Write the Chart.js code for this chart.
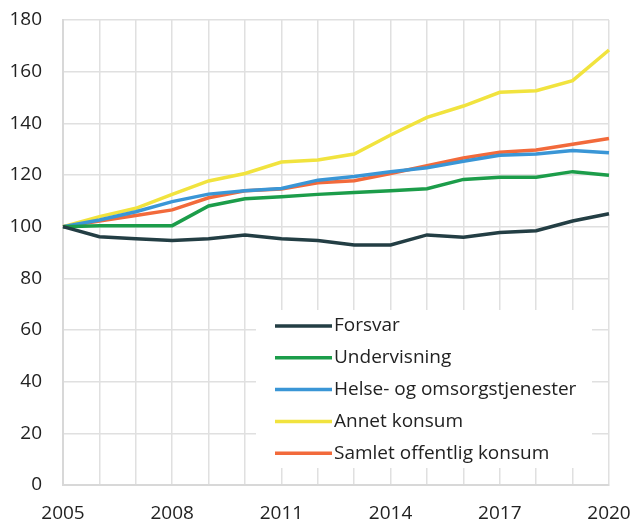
<!DOCTYPE html>
<html lang="no">
<head>
<meta charset="UTF-8">
<title>Offentlig konsum</title>
<script src="https://cdn.jsdelivr.net/npm/chart.js"></script>
<style>
    html, body { margin: 0; padding: 0; background: white; }
    .chart-container { width: 640px; height: 523px; position: relative; }
</style>
</head>
<body>
<div class="chart-container">
    <canvas id="konsumChart"></canvas>
</div>
<script>
    // Indeks, 2005 = 100
    const years = ['2005','2006','2007','2008','2009','2010','2011','2012','2013','2014','2015','2016','2017','2018','2019','2020'];
    const forsvar      = [100, 96.1, 95.3, 94.6, 95.3, 96.8, 95.3, 94.6, 92.9, 92.9, 96.8, 95.9, 97.7, 98.4, 102.2, 105.0];
    const undervisning = [100, 100.4, 100.4, 100.4, 108.0, 110.8, 111.6, 112.5, 113.2, 113.9, 114.7, 118.3, 119.1, 119.1, 121.3, 119.9];
    const helse        = [100, 102.6, 105.8, 109.7, 112.6, 113.9, 114.8, 118.0, 119.4, 121.3, 122.8, 125.3, 127.6, 128.1, 129.5, 128.6];
    const annet        = [100, 103.9, 107.1, 112.5, 117.7, 120.6, 125.0, 125.8, 128.1, 135.5, 142.3, 146.7, 152.0, 152.6, 156.5, 168.4];
    const samlet       = [100, 102.2, 104.3, 106.5, 111.2, 113.9, 114.6, 117.0, 117.8, 120.6, 123.6, 126.6, 128.8, 129.7, 131.9, 134.1];

    const FONT = "'Open Sans', sans-serif";
    const GRID = '#e0e0e0';

    function line(label, data, color) {
        return {
            label: label,
            data: data,
            borderColor: color,
            backgroundColor: color,
            borderWidth: 3.5,
            pointRadius: 0,
            tension: 0,
            fill: false
        };
    }

    // legend drawn inside the plot area, on a white box
    const boxLegend = {
        id: 'boxLegend',
        afterDraw(chart) {
            const ctx = chart.ctx;
            ctx.save();
            ctx.fillStyle = '#ffffff';
            ctx.fillRect(256, 310, 336, 158);
            ctx.font = '19px ' + FONT;
            ctx.textBaseline = 'middle';
            chart.data.datasets.forEach((ds, i) => {
                const y = 326 + i * 31.8;
                ctx.strokeStyle = ds.borderColor;
                ctx.lineWidth = 3.5;
                ctx.beginPath();
                ctx.moveTo(275, y);
                ctx.lineTo(332, y);
                ctx.stroke();
                ctx.fillStyle = '#222';
                ctx.fillText(ds.label, 334, y);
            });
            ctx.restore();
        }
    };

    new Chart(document.getElementById('konsumChart'), {
        type: 'line',
        data: {
            labels: years,
            datasets: [
                line('Forsvar', forsvar, '#233e44'),
                line('Undervisning', undervisning, '#1c9d4a'),
                line('Helse- og omsorgstjenester', helse, '#3a96d6'),
                line('Annet konsum', annet, '#f1e33e'),
                line('Samlet offentlig konsum', samlet, '#f26a3b')
            ]
        },
        options: {
            responsive: true,
            maintainAspectRatio: false,
            animation: false,
            layout: { padding: { left: 0, top: 20, right: 31, bottom: 0 } },
            plugins: {
                legend: { display: false },
                tooltip: { enabled: false }
            },
            scales: {
                x: {
                    offset: false,
                    afterFit(scale) {
                        scale.height = 38;
                        scale.paddingLeft = 0;
                        scale.paddingRight = 0;
                    },
                    grid: { color: GRID, lineWidth: 1.5, drawTicks: false },
                    border: { color: '#d8d8d8', width: 2 },
                    ticks: {
                        autoSkip: false,
                        maxRotation: 0,
                        padding: 17,
                        color: '#222',
                        font: { family: FONT, size: 19 },
                        callback: function (val, idx) {
                            return idx % 3 === 0 ? this.getLabelForValue(val) : '';
                        }
                    }
                },
                y: {
                    min: 0,
                    max: 180,
                    afterFit(scale) {
                        scale.width = 63;
                        scale.paddingTop = 0;
                        scale.paddingBottom = 0;
                    },
                    grid: { color: GRID, lineWidth: 1.5, drawTicks: false },
                    border: { color: '#d8d8d8', width: 2 },
                    ticks: {
                        stepSize: 20,
                        padding: 21,
                        color: '#222',
                        font: { family: FONT, size: 19 }
                    }
                }
            }
        },
        plugins: [boxLegend]
    });
</script>
</body>
</html>
